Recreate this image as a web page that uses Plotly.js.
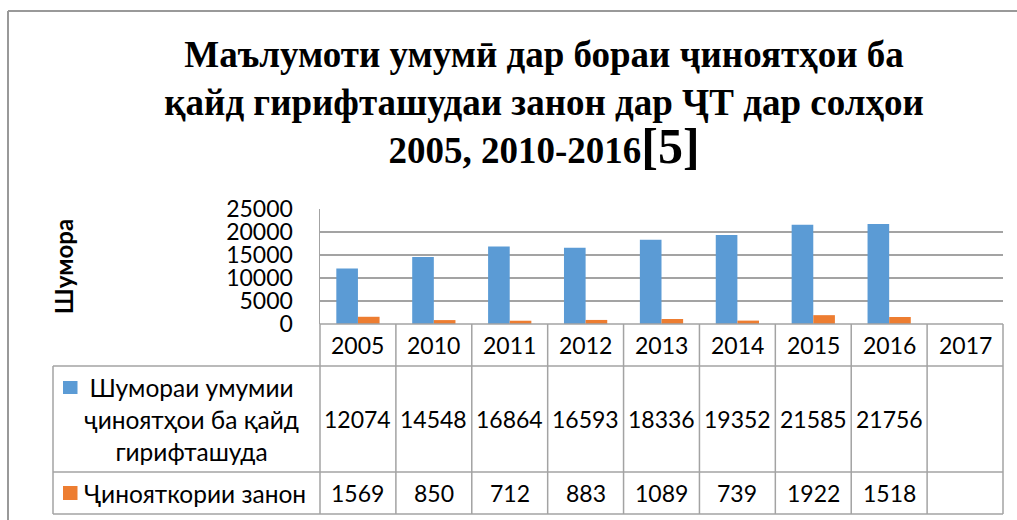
<!DOCTYPE html>
<html>
<head>
<meta charset="utf-8">
<script src="https://cdn.plot.ly/plotly-3.0.1.min.js"></script>
<style>html,body{margin:0;padding:0;background:#fff;}#chart{width:1017px;height:520px;}</style>
</head>
<body>
<div id="chart"></div>
<script>
// ---- data ----
const categories = ['2005','2010','2011','2012','2013','2014','2015','2016','2017'];
const totalCrimes = [12074, 14548, 16864, 16593, 18336, 19352, 21585, 21756, null];
const womenOffenders = [1569, 850, 712, 883, 1089, 739, 1922, 1518, null];
const seriesNames = ['Шумораи умумии<br>ҷиноятҳои ба қайд<br>гирифташуда', 'Ҷинояткории занон'];
const seriesColors = ['#5B9BD5', '#ED7D31'];
const yTickValues = [0, 5000, 10000, 15000, 20000, 25000];
const titleText = 'Маълумоти умумӣ дар бораи ҷиноятҳои ба<br>қайд гирифташудаи занон дар ҶТ дар солҳои<br><b>2005, 2010-2016<span style="font-size:50px;font-weight:900">[5]</span></b>';
const yTitle = 'Шумора';

// ---- geometry helpers (pixel -> paper) ----
const W = 1017, H = 520;
const M = {l: 320, r: 14, t: 209, b: 196};
const PW = W - M.l - M.r, PH = H - M.t - M.b;
const py = p => (H - M.b - p) / PH;
const px = p => (p - M.l) / PW;
const nCat = categories.length;
const bx = k => k / nCat; // category boundary in paper coords

const sansFont = 'Lato, Carlito, Calibri, "Noto Sans", sans-serif';
const gridColor = '#a3a3a3';
const txtFont = {family: sansFont, size: 23, color: '#000'};
const legFont = {family: sansFont, size: 24.5, color: '#000'};

const traces = [
  {type: 'bar', x: categories, y: totalCrimes, name: seriesNames[0].replace(/<br>/g, ' '),
   marker: {color: seriesColors[0]}, showlegend: false, hoverinfo: 'x+y'},
  {type: 'bar', x: categories, y: womenOffenders, name: seriesNames[1],
   marker: {color: seriesColors[1]}, showlegend: false, hoverinfo: 'x+y'}
];

// ---- data table drawn below the plot ----
const rowTop = [324, 366, 472, 514];
const shapes = [];
const lineStyle = {color: gridColor, width: 1.5};
const borderStyle = {color: '#999', width: 2};
// outer chart border (left and top edges visible)
shapes.push({type: 'line', xref: 'paper', yref: 'paper', x0: px(8), x1: px(8), y0: py(11), y1: py(520), line: borderStyle});
shapes.push({type: 'line', xref: 'paper', yref: 'paper', x0: px(8), x1: px(1017), y0: py(11), y1: py(11), line: borderStyle});
// horizontal table lines
shapes.push({type: 'line', xref: 'paper', yref: 'paper', x0: 0, x1: 1, y0: py(rowTop[0]), y1: py(rowTop[0]), line: lineStyle});
for (let r = 1; r < rowTop.length; r++) {
  shapes.push({type: 'line', xref: 'paper', yref: 'paper', x0: px(53), x1: 1, y0: py(rowTop[r]), y1: py(rowTop[r]), line: lineStyle});
}
// vertical table lines
for (let k = 0; k <= nCat; k++) {
  shapes.push({type: 'line', xref: 'paper', yref: 'paper', x0: bx(k), x1: bx(k), y0: py(rowTop[0]), y1: py(rowTop[3]), line: lineStyle});
}
shapes.push({type: 'line', xref: 'paper', yref: 'paper', x0: px(53), x1: px(53), y0: py(rowTop[1]), y1: py(rowTop[3]), line: lineStyle});
// legend swatches
const swatchY = [[381, 394], [486, 500]];
for (let s = 0; s < 2; s++) {
  shapes.push({type: 'rect', xref: 'paper', yref: 'paper', x0: px(63), x1: px(77.5), y0: py(swatchY[s][1]), y1: py(swatchY[s][0]),
               fillcolor: seriesColors[s], line: {width: 0}});
}

const annotations = [];
const rowMid = [345, 419, 493];
categories.forEach((c, i) => {
  const xi = categories.indexOf(c); // category serial number on the x axis
  annotations.push({x: xi, xref: 'x', y: py(rowMid[0]), yref: 'paper', text: c, showarrow: false, font: txtFont, xanchor: 'center', yanchor: 'middle'});
  [totalCrimes, womenOffenders].forEach((arr, s) => {
    if (arr[i] !== null) {
      annotations.push({x: xi, xref: 'x', y: py(rowMid[s + 1]), yref: 'paper', text: String(arr[i]), showarrow: false, font: txtFont, xanchor: 'center', yanchor: 'middle'});
    }
  });
});
annotations.push({x: px(191), xref: 'paper', y: py(rowMid[1]), yref: 'paper', text: seriesNames[0], showarrow: false, font: legFont, align: 'center', xanchor: 'center', yanchor: 'middle'});
annotations.push({x: px(194.5), xref: 'paper', y: py(rowMid[2]), yref: 'paper', text: seriesNames[1], showarrow: false, font: legFont, align: 'center', xanchor: 'center', yanchor: 'middle'});

const layout = {
  width: W, height: H,
  margin: M,
  paper_bgcolor: '#fff', plot_bgcolor: '#fff',
  title: {text: titleText, x: 544 / W, xref: 'container', xanchor: 'center', y: 1 - 67 / H, yref: 'container', yanchor: 'top',
          font: {family: '"Liberation Serif", "Times New Roman", serif', size: 37, color: '#000', weight: 'bold'}},
  barmode: 'group', bargap: 0.43, bargroupgap: 0,
  xaxis: {type: 'category', range: [-0.5, nCat - 0.5], showticklabels: false, ticks: '', showgrid: false, zeroline: false,
          showline: false, fixedrange: true},
  yaxis: {range: [0, 25000], tickvals: yTickValues, ticktext: yTickValues.map(String), showgrid: true, gridcolor: gridColor, gridwidth: 1.5,
          zeroline: false, showline: true, linecolor: gridColor, linewidth: 1.5, ticks: '', ticklabelstandoff: 21,
          tickfont: txtFont, automargin: false, fixedrange: true,
          title: {text: yTitle, font: {family: sansFont, size: 24, color: '#000', weight: 'bold'}, standoff: 146}},
  shapes: shapes,
  annotations: annotations,
  showlegend: false
};

Plotly.newPlot('chart', traces, layout, {displayModeBar: false, staticPlot: true});
</script>
</body>
</html>
